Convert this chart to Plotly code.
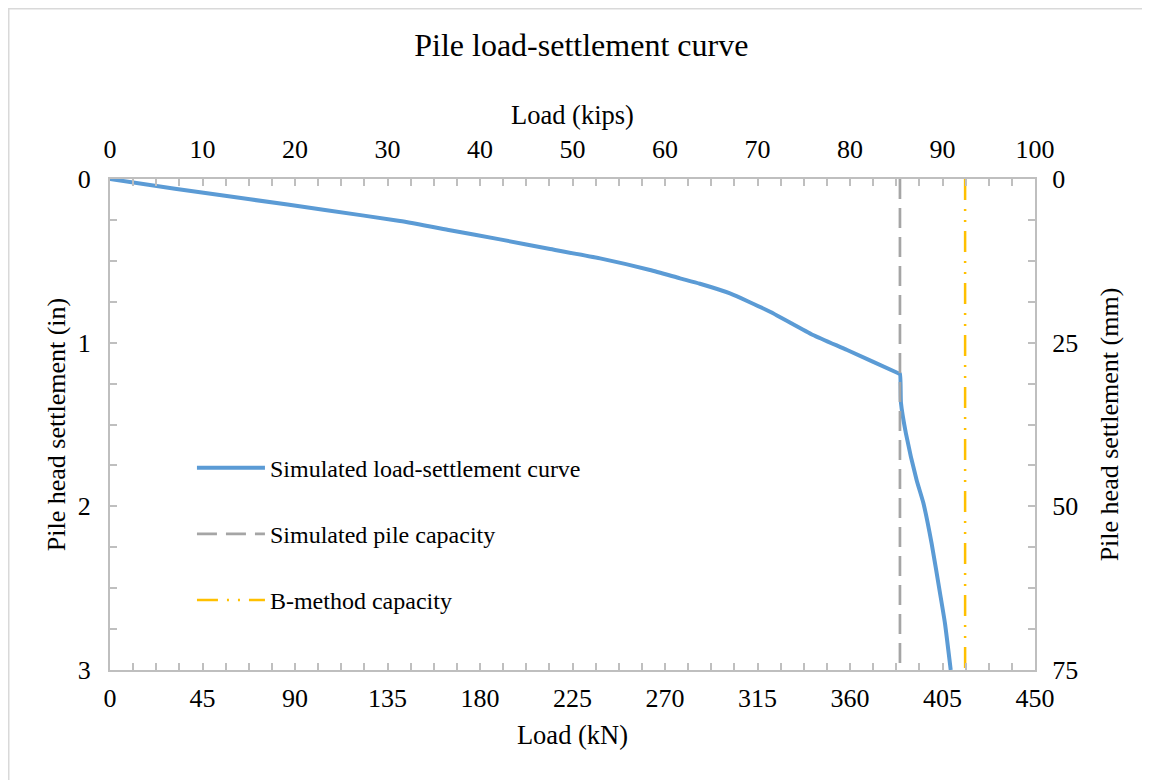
import plotly.graph_objects as go

# Data
load_kN = [0, 31.6, 68.1, 104.6, 141.1, 165.4, 189.7, 214.1, 238.4, 262.7, 277.3, 287.0,
           301.6, 321.1, 342.0, 358.6, 383.5, 384.3, 384.8, 387.2, 392.4, 395.7, 399.7,
           403.8, 406.2, 409.0]
settle_in = [0, 0.060, 0.124, 0.189, 0.257, 0.313, 0.369, 0.428, 0.485, 0.556, 0.607, 0.640,
             0.699, 0.811, 0.953, 1.045, 1.187, 1.191, 1.369, 1.554, 1.839, 1.98, 2.226,
             2.531, 2.715, 3.0]
sim_capacity_kN = 384.3
bmethod_capacity_kN = 416.0
cap_y = [0, 3]

kN_ticks = [0, 45, 90, 135, 180, 225, 270, 315, 360, 405, 450]
kips_ticks = [0, 10, 20, 30, 40, 50, 60, 70, 80, 90, 100]
in_ticks = [0, 1, 2, 3]
mm_ticks = [0, 25, 50, 75]

FONT = "Liberation Serif, Times New Roman, serif"
AX = "#BFBFBF"

W, H = 1142, 772
L, T, PW, PH = 102, 171, 925, 491

fig = go.Figure()
fig.add_trace(go.Scatter(x=load_kN, y=settle_in, mode="lines",
                         name="Simulated load-settlement curve",
                         line=dict(color="#5B9BD5", width=4, shape="spline", smoothing=0.5),
                         legendgroup="a", xaxis="x", yaxis="y"))
fig.add_trace(go.Scatter(x=[sim_capacity_kN] * 2, y=cap_y, mode="lines",
                         name="Simulated pile capacity",
                         line=dict(color="#A5A5A5", width=2.7, dash="20px,9px"),
                         legendgroup="b", xaxis="x", yaxis="y"))
fig.add_trace(go.Scatter(x=[bmethod_capacity_kN] * 2, y=cap_y, mode="lines",
                         name="B-method capacity",
                         line=dict(color="#FFC000", width=2.5,
                                   dash="21px,9px,2px,9px,2px,9px"),
                         legendgroup="c", xaxis="x", yaxis="y"))
# helper trace so the secondary axes are drawn
fig.add_trace(go.Scatter(x=[kips_ticks[0]], y=[mm_ticks[0]], mode="lines",
                         showlegend=False, hoverinfo="skip",
                         xaxis="x2", yaxis="y2"))

common = dict(showgrid=False, zeroline=False, showline=True, linecolor=AX,
              linewidth=2, ticks="inside", tickcolor=AX, ticklen=7, tickwidth=1.5,
              tickfont=dict(family=FONT, size=26, color="#000"))

def minor(d):
    return dict(dtick=d, ticks="inside", ticklen=7, tickcolor=AX, tickwidth=1.5)

TF = dict(family=FONT, size=26.5, color="#000")

fig.update_layout(
    width=W, height=H,
    paper_bgcolor="white", plot_bgcolor="white",
    margin=dict(l=L, r=W - L - PW, t=T, b=H - T - PH),
    font=dict(family=FONT, color="#000"),
    title=dict(text="Pile load-settlement curve", x=0.502, xanchor="center",
               y=1 - 37 / H, yanchor="middle", font=dict(family=FONT, size=32, color="#000")),
    xaxis=dict(range=[0, 450], tickvals=kN_ticks, minor=minor(11.25),
               title=dict(text="Load (kN)", font=TF, standoff=13),
               side="bottom", ticklabelstandoff=4, **common),
    xaxis2=dict(range=[0, 100], tickvals=kips_ticks, overlaying="x", side="top",
                minor=minor(2.5),
                title=dict(text="Load (kips)", font=TF, standoff=2),
                anchor="y", ticklabelstandoff=9, **common),
    yaxis=dict(range=[3, 0], tickvals=in_ticks, minor=minor(0.25),
               title=dict(text="Pile head settlement (in)", font=dict(family=FONT, size=26, color="#000"), standoff=5),
               ticklabelstandoff=12, **common),
    yaxis2=dict(range=[75, 0], tickvals=mm_ticks, overlaying="y", side="right",
                minor=minor(6.25),
                title=dict(text="Pile head settlement (mm)", font=dict(family=FONT, size=26, color="#000"), standoff=23),
                anchor="x", ticklabelstandoff=10, **common),
    legend=dict(x=0.0886, y=0.457, xanchor="left", yanchor="top",
                bgcolor="rgba(0,0,0,0)", font=dict(family=FONT, size=24, color="#000"),
                tracegroupgap=32, itemwidth=68),
    showlegend=True,
    shapes=[dict(type="rect", xref="paper", yref="paper",
                 x0=(0.75 - L) / PW, x1=(W + 20 - L) / PW,
                 y0=(T + PH - H - 20) / PH, y1=(T + PH - 0.75) / PH,
                 line=dict(color="#D9D9D9", width=1.5), layer="below")],
)

fig.write_html("out.html")
